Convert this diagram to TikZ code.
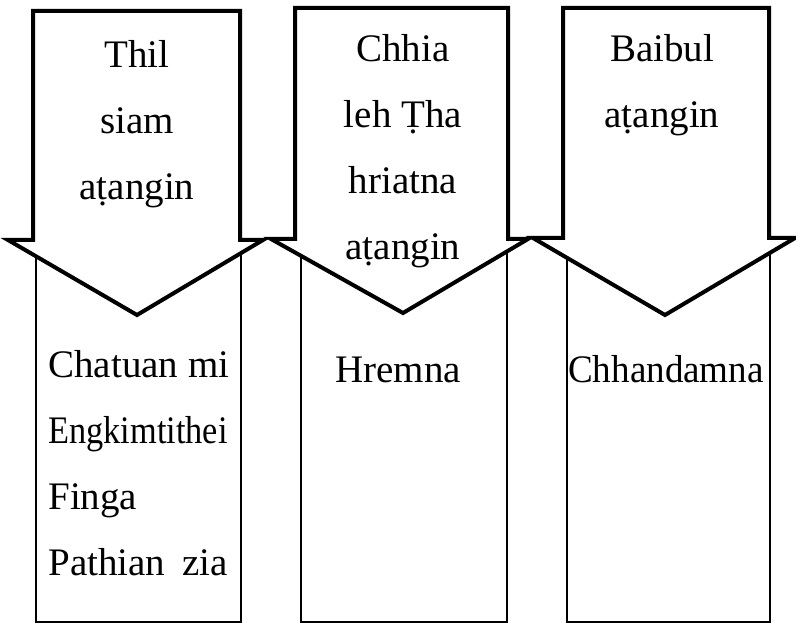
\documentclass[tikz,border=0pt]{standalone}
\usepackage{fontspec}
\setmainfont{Liberation Serif}
\usepackage{graphicx}
\usetikzlibrary{positioning}
\tikzset{bigarrow/.style={draw, line width=2pt, fill=white, line join=miter},
         colbox/.style={draw, line width=0.8pt},
         lbl/.style={inner sep=0pt, anchor=base, align=center,
           font=\fontsize{19.5}{33}\selectfont}}

\begin{document}
\begin{tikzpicture}[x=0.5pt,y=-0.5pt]
  \useasboundingbox (0,0) rectangle (796,624);
  \draw[colbox] (36,250) rectangle (241,622);
  \draw[colbox] (301,250) rectangle (507,622);
  \draw[colbox] (567,250) rectangle (770,622);
  \draw[bigarrow] (33,11) -- (240,11) -- (240,240) -- (263,240)
    -- (137,315) -- (8,240) -- (33,240) -- cycle;
  \draw[bigarrow] (295,8) -- (508,8) -- (508,239) -- (528,239)
    -- (403,313) -- (271,239) -- (295,239) -- cycle;
  \draw[bigarrow] (563,8) -- (769,8) -- (769,238) -- (795,238)
    -- (665,315) -- (533,238) -- (563,238) -- cycle;
  % base anchor sits on the last line
  \node[lbl] (thil) at (137,200) {Thil\\siam\\aṭangin};
  \node[lbl] (chhia) at (403,260) {Chhia\\leh Ṭha\\hriatna\\aṭangin};
  \node[lbl] (baibul) at (662,128) {Baibul\\aṭangin};
  \node[lbl, align=left, anchor=base west] (chatuan) at (48,575)
    {Chatuan mi\\\scalebox{0.88}[1]{Engkimtithei}\\Finga\\Pathian\kern3.5pt{} zia};
  \node[lbl] (hremna) at (398,382) {Hremna};
  \node[lbl] (chhandamna) at (666,382) {\scalebox{0.95}[1]{Chhandamna}};
\end{tikzpicture}
\end{document}
